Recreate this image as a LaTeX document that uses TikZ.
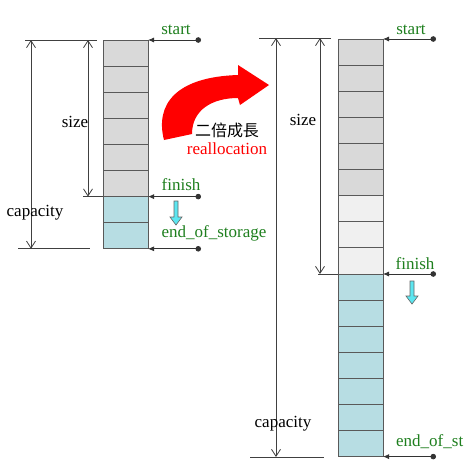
\documentclass[tikz,border=0pt]{standalone}
\usepackage{fontspec}
\setmainfont{Liberation Serif}
\newfontfamily\cjkfont{Noto Sans CJK TC}
\usetikzlibrary{arrows.meta}
\definecolor{usedgray}{HTML}{D9D9D9}
\definecolor{newgray}{HTML}{F0F0F0}
\definecolor{freeblue}{HTML}{B7DDE3}
\definecolor{ptrgreen}{HTML}{1E7F1E}
\definecolor{growcyan}{HTML}{5CE6F0}
\tikzset{
	cell/.style = {draw = black!65, line width = 0.8pt},
	dim/.style = {draw = black!75, line width = 0.8pt},
	dimarrow/.style = {dim, {Straight Barb[length=7pt,width=9pt]}-{Straight Barb[length=7pt,width=9pt]}},
	ptr/.style = {draw = black!80, line width = 0.8pt, {Latex[length=6pt,width=5pt]}-{Circle[length=5.5pt]}},
	lbl/.style = {font = \fontsize{17}{19}\selectfont, inner sep = 0pt},
	ptrlbl/.style = {lbl, text = ptrgreen},
}
\begin{document}
\begin{tikzpicture}[x = 1pt, y = -1pt]
\useasboundingbox (0,0) rectangle (465,467);
\fill[white] (0,0) rectangle (465,467);

% old buffer: 8 slots
\foreach \i in {0,...,5} {
	\draw[cell, fill = usedgray] (103,40 + 26.1*\i) rectangle (148,40 + 26.1*\i + 26.1);
}
\foreach \i in {6,7} {
	\draw[cell, fill = freeblue] (103,40 + 26.1*\i) rectangle (148,40 + 26.1*\i + 26.1);
}
% new buffer: 16 slots
\foreach \i in {0,...,5} {
	\draw[cell, fill = usedgray] (338,39 + 26.1*\i) rectangle (383,39 + 26.1*\i + 26.1);
}
\foreach \i in {6,7,8} {
	\draw[cell, fill = newgray] (338,39 + 26.1*\i) rectangle (383,39 + 26.1*\i + 26.1);
}
\foreach \i in {9,...,15} {
	\draw[cell, fill = freeblue] (338,39 + 26.1*\i) rectangle (383,39 + 26.1*\i + 26.1);
}

% pointers
\coordinate (Lstart) at (148,40);
\coordinate (Lfinish) at (148,196.6);
\coordinate (Leos) at (148,248.8);
\coordinate (Lstartdot) at (201,40);
\coordinate (Lfinishdot) at (201,196.6);
\coordinate (Leosdot) at (201,248.8);
\coordinate (Rstart) at (383,39);
\coordinate (Rfinish) at (383,274);
\coordinate (Reos) at (383,456.6);
\coordinate (Rstartdot) at (436,39);
\coordinate (Rfinishdot) at (436,274);
\coordinate (Reosdot) at (436,456.6);
\foreach \p in {Lstart,Lfinish,Leos,Rstart,Rfinish,Reos} {
	\draw[ptr] (\p) to (\p dot);
}
\node[ptrlbl] (lstartlbl) at (176,30) {start};
\node[ptrlbl] (lfinishlbl) at (181,185) {finish};
\node[ptrlbl] (leoslbl) at (214,233) {end\_of\_storage};
\node[ptrlbl] (rstartlbl) at (411,30) {start};
\node[ptrlbl] (rfinishlbl) at (415,264) {finish};
\node[ptrlbl, anchor = west] (reoslbl) at (396,442) {end\_of\_st};

% finish moves down
\foreach \x/\ya/\yb in {176/201/225, 412/281/304} {
	\draw[black!60, line width = 0.6pt, fill = growcyan]
		(\x - 2,\ya) -- (\x + 2,\ya) -- (\x + 2,\yb - 8) -- (\x + 6,\yb - 8)
		-- (\x,\yb) -- (\x - 6,\yb - 8) -- (\x - 2,\yb - 8) -- cycle;
}

% dimension lines, old buffer
\coordinate (Ltopl) at (25,40);
\coordinate (Ltopr) at (97,40);
\coordinate (Lfinl) at (83,196.6);
\coordinate (Lbotl) at (18,248.8);
\coordinate (Lbotr) at (90,248.8);
\draw[dim] (Ltopl) to (Ltopr);
\draw[dim] (Lfinl) to (103,196.6);
\draw[dim] (Lbotl) to (Lbotr);
\draw[dimarrow] (88,40) to (88,196.6);
\draw[dimarrow] (31,40) to (31,248.8);
\node[lbl] (lsize) at (75,122) {size};
\node[lbl] (lcap) at (35,213) {capacity};

% dimension lines, new buffer
\coordinate (Rtopl) at (259,38);
\coordinate (Rtopr) at (331,38);
\coordinate (Rfinl) at (318,274);
\coordinate (Rbotl) at (250,457);
\coordinate (Rbotr) at (324,457);
\draw[dim] (Rtopl) to (Rtopr);
\draw[dim] (Rfinl) to (338,274);
\draw[dim] (Rbotl) to (Rbotr);
\draw[dimarrow] (320,38) to (320,274);
\draw[dimarrow] (276,38) to (276,457);
\node[lbl] (rsize) at (303,120) {size};
\node[lbl] (rcap) at (283,424) {capacity};

% reallocation arrow
\fill[red] (164,140) .. controls (155,105) and (175,77) .. (238,75) -- (238,65)
	-- (269,85) -- (240,105) -- (238,98) .. controls (212,98) and (192,110) .. (192,134) -- cycle;
\node[lbl, font = \cjkfont\fontsize{16}{18}\selectfont] (grow) at (227,130) {二倍成長};
\node[lbl, text = red] (realloc) at (227,149) {reallocation};
\end{tikzpicture}
\end{document}
